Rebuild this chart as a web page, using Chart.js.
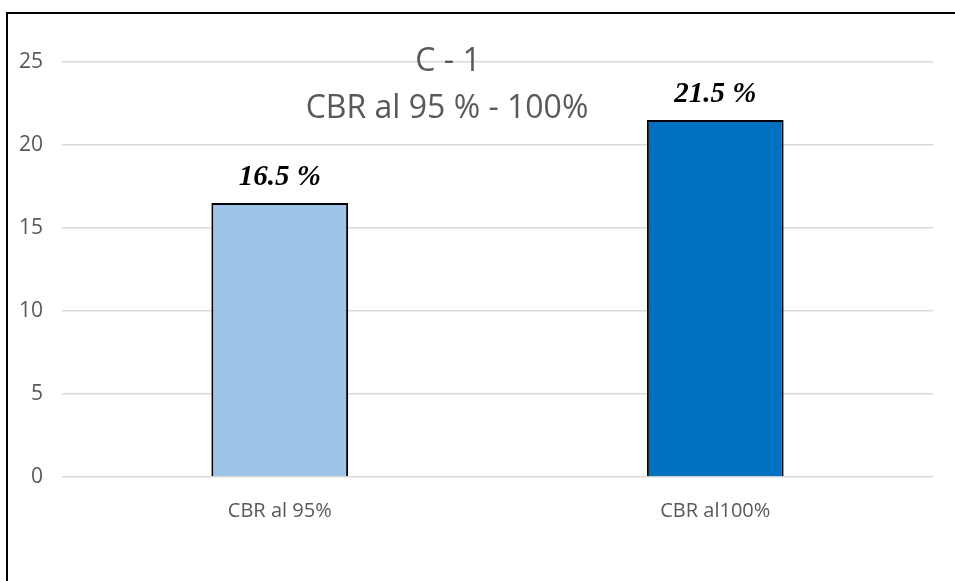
<!DOCTYPE html>
<html>
<head>
<meta charset="utf-8">
<script src="https://cdn.jsdelivr.net/npm/chart.js@4/dist/chart.umd.min.js"></script>
<style>
  html, body { margin: 0; padding: 0; background: #fff; }
  #wrap { position: relative; width: 955px; height: 581px; }
  #frame { position: absolute; left: 6px; top: 12px; right: 0; bottom: 0;
           border-left: 2px solid #000; border-top: 2px solid #000; }
  #chart { position: absolute; left: 0; top: 0; }
</style>
</head>
<body>
<div id="wrap">
  <div id="frame"></div>
  <canvas id="chart" width="955" height="581"></canvas>
</div>
<script>
// data
var categories = ["CBR al 95%", "CBR al100%"];
var cbrValues = [16.5, 21.5];
var barColors = ["#9DC3E6", "#0070C0"];
var titleLines = ["C - 1", "CBR al 95 % - 100%"];
var yTicks = [0, 5, 10, 15, 20, 25];

// bold italic value above each bar
var valueLabels = {
    id: "valueLabels",
    afterDatasetsDraw: function (chart) {
        var ctx = chart.ctx;
        var meta = chart.getDatasetMeta(0);
        ctx.save();
        ctx.font = "italic bold 29px 'Liberation Serif'";
        ctx.fillStyle = "#000";
        ctx.textAlign = "center";
        ctx.textBaseline = "bottom";
        meta.data.forEach(function (bar, i) {
            ctx.fillText(cbrValues[i].toFixed(1) + " %", bar.x, bar.y - 11);
        });
        ctx.restore();
    }
};

// title sits inside the plot, over the grid
var overTitle = {
    id: "overTitle",
    afterDraw: function (chart) {
        var ctx = chart.ctx;
        ctx.save();
        ctx.font = "32px 'Open Sans'";
        ctx.fillStyle = "#595959";
        ctx.textAlign = "center";
        ctx.textBaseline = "middle";
        ctx.fillText(titleLines[0], 448, 62);
        ctx.fillText(titleLines[1], 447, 109);
        ctx.restore();
    }
};

new Chart(document.getElementById("chart").getContext("2d"), {
    type: "bar",
    data: {
        labels: categories,
        datasets: [{
            data: cbrValues,
            backgroundColor: barColors,
            borderColor: "#000",
            borderWidth: 2,
            categoryPercentage: 1,
            barPercentage: 0.314
        }]
    },
    options: {
        responsive: false,
        animation: false,
        layout: { padding: { left: 0, top: 62, right: 22, bottom: 0 } },
        plugins: {
            legend: { display: false },
            title: { display: false },
            tooltip: { enabled: false }
        },
        scales: {
            y: {
                min: yTicks[0],
                max: yTicks[yTicks.length - 1],
                afterBuildTicks: function (s) { s.ticks = yTicks.map(function (v) { return { value: v }; }); },
                afterFit: function (s) { s.width = 62; },
                border: { display: false },
                grid: { color: "#d9d9d9", lineWidth: 1.5, drawTicks: false },
                ticks: {
                    padding: 19,
                    color: "#595959",
                    font: { family: "Open Sans", size: 21 }
                }
            },
            x: {
                afterFit: function (s) { s.height = 104; },
                border: { display: false },
                grid: { display: false, drawTicks: false },
                ticks: {
                    padding: 22,
                    color: "#595959",
                    font: { family: "Open Sans", size: 20 }
                }
            }
        }
    },
    plugins: [valueLabels, overTitle]
});
</script>
</body>
</html>
